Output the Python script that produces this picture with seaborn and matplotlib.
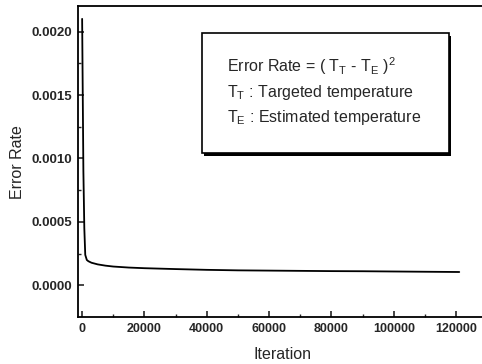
import pandas as pd
import seaborn as sns
import matplotlib.pyplot as plt
from matplotlib.patches import Rectangle

# Training error
iterations = [0, 200, 400, 700, 1000, 1500, 2000, 3000, 5000, 7500, 10000, 15000,
              20000, 30000, 40000, 50000, 60000, 70000, 80000, 90000, 100000, 110000, 121000]
error_rate = [0.00210, 0.00150, 0.00090, 0.00045, 0.00024, 0.00020, 0.000190, 0.000178,
              0.000165, 0.000155, 0.000148, 0.000140, 0.000135, 0.000128, 0.000122,
              0.000118, 0.000116, 0.000114, 0.000112, 0.000111, 0.000109, 0.000107, 0.000105]

x_ticks = [0, 20000, 40000, 60000, 80000, 100000, 120000]
y_ticks = [0.0000, 0.0005, 0.0010, 0.0015, 0.0020]

sns.set_style("ticks")
plt.rcParams['font.family'] = ['Liberation Sans', 'DejaVu Sans']
plt.rcParams['mathtext.fontset'] = 'custom'
plt.rcParams['mathtext.rm'] = 'Liberation Sans'

df = pd.DataFrame({"Iteration": iterations, "Error Rate": error_rate})

fig = plt.figure(figsize=(4.82, 3.64), dpi=100)
ax = fig.add_axes([0.162, 0.129, 0.849, 0.854])

sns.lineplot(data=df, x="Iteration", y="Error Rate", color="black", linewidth=1.3, ax=ax)

ax.set_xlim(-1300, 130000)
ax.set_ylim(-0.00025, 0.0022)
ax.set_xticks(x_ticks)
ax.set_yticks(y_ticks)
ax.set_xticks([t + 10000 for t in x_ticks], minor=True)
ax.set_yticks([t + 0.00025 for t in y_ticks[:-1]], minor=True)
ax.set_xticklabels([str(t) for t in x_ticks], fontsize=9, fontweight="bold")
ax.set_yticklabels(["%.4f" % t for t in y_ticks], fontsize=9.5, fontweight="bold")
ax.tick_params(axis="both", which="major", direction="in", length=4, width=1.2, pad=4)
ax.tick_params(axis="both", which="minor", direction="in", length=2.5, width=1)

for side in ["left", "bottom", "top", "right"]:
    ax.spines[side].set_linewidth(1.3)
    ax.spines[side].set_color("black")

ax.set_xlabel("Iteration", fontsize=11.5, labelpad=9)
ax.set_ylabel("Error Rate", fontsize=11.5, labelpad=5)

# Formula box with a thin drop shadow
ax.add_patch(Rectangle((0.3085, 0.5195), 0.604, 0.386, transform=ax.transAxes,
                       facecolor="black", edgecolor="none", zorder=4))
ax.add_patch(Rectangle((0.303, 0.527), 0.604, 0.386, transform=ax.transAxes,
                       facecolor="white", edgecolor="black", linewidth=1.2, zorder=5))

ax.text(0.365, 0.806, r"Error Rate = ( T$_\mathregular{T}$ - T$_\mathregular{E}$ )$^\mathregular{2}$",
        transform=ax.transAxes, fontsize=11.5, va="center", zorder=6)
ax.text(0.365, 0.722, r"T$_\mathregular{T}$ : Targeted temperature",
        transform=ax.transAxes, fontsize=11.5, va="center", zorder=6)
ax.text(0.365, 0.641, r"T$_\mathregular{E}$ : Estimated temperature",
        transform=ax.transAxes, fontsize=11.5, va="center", zorder=6)

plt.savefig("out.png", dpi=100)
